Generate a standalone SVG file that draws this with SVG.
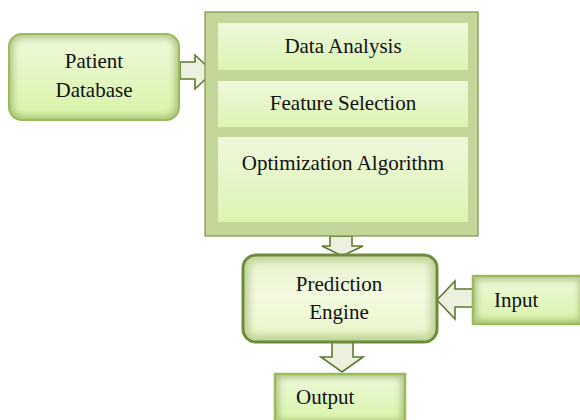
<svg xmlns="http://www.w3.org/2000/svg" width="580" height="420" viewBox="0 0 580 420">
<defs>
  <linearGradient id="gNode" x1="0" y1="0" x2="0" y2="1">
    <stop offset="0" stop-color="#eef9da"/>
    <stop offset="1" stop-color="#d7f3a8"/>
  </linearGradient>
  <linearGradient id="gInner" x1="0" y1="0" x2="0" y2="1">
    <stop offset="0" stop-color="#eef8dc"/>
    <stop offset="1" stop-color="#dcf4b2"/>
  </linearGradient>
  <linearGradient id="gPred" x1="0" y1="0" x2="0" y2="1">
    <stop offset="0" stop-color="#e8f3cf"/>
    <stop offset="0.5" stop-color="#f3fadf"/>
    <stop offset="1" stop-color="#e6f5c4"/>
  </linearGradient>
  <filter id="soft" x="-10%" y="-10%" width="120%" height="120%">
    <feGaussianBlur stdDeviation="3"/>
  </filter>
  <clipPath id="cPat"><rect x="9" y="34" width="170" height="86" rx="13"/></clipPath>
  <clipPath id="cPred"><rect x="243" y="255" width="194" height="87" rx="13"/></clipPath>
  <clipPath id="cIn"><rect x="473" y="276" width="110" height="48"/></clipPath>
  <clipPath id="cOut"><rect x="275" y="374" width="130" height="50"/></clipPath>
</defs>
<style>
  .t { font-family: "Liberation Serif", "Times New Roman", serif; font-size: 21px; fill: #111; }
  .arrow { fill: #ebf1de; stroke: #5f7a30; stroke-width: 1.6; stroke-linejoin: miter; }
  .shade { fill: none; stroke: #7f9a4a; stroke-width: 8; opacity: 0.55; }
</style>

<g id="connectors">
  <path class="arrow" d="M180,62 H195 V55 L213,72 L195,89 V79 H180 Z"/>
  <path class="arrow" d="M330,236 H352 V246 H363 L342,256 L322,246 H330 Z"/>
  <path class="arrow" d="M473,289 H455 V281 L437,300 L455,319 V307 H473 Z"/>
  <path class="arrow" d="M332,342 H353 V357 H363 L342,372 L321,357 H332 Z"/>
</g>

<g id="patient-database">
  <rect x="9" y="34" width="170" height="86" rx="13" fill="url(#gNode)"/>
  <g clip-path="url(#cPat)"><rect x="9" y="34" width="170" height="86" rx="13" class="shade" filter="url(#soft)"/></g>
  <rect x="9" y="34" width="170" height="86" rx="13" fill="none" stroke="#9bbb59" stroke-width="2"/>
  <text class="t" x="94" y="68" text-anchor="middle">Patient</text>
  <text class="t" x="94" y="97" text-anchor="middle">Database</text>
</g>

<g id="processing">
  <rect x="205" y="12" width="273" height="224" fill="#c4d79b" stroke="#7a9444" stroke-width="1.2"/>
  <g id="data-analysis">
    <rect x="218" y="23" width="250" height="47" fill="url(#gInner)"/>
    <text class="t" x="343" y="53" text-anchor="middle">Data Analysis</text>
  </g>
  <g id="feature-selection">
    <rect x="218" y="81" width="250" height="46" fill="url(#gInner)"/>
    <text class="t" x="343" y="110" text-anchor="middle">Feature Selection</text>
  </g>
  <g id="optimization-algorithm">
    <rect x="218" y="137" width="250" height="85" fill="url(#gInner)"/>
    <text class="t" x="343" y="170" text-anchor="middle">Optimization Algorithm</text>
  </g>
</g>

<g id="prediction-engine">
  <rect x="243" y="255" width="194" height="87" rx="13" fill="url(#gPred)"/>
  <g clip-path="url(#cPred)"><rect x="243" y="255" width="194" height="87" rx="13" fill="none" stroke="#a9c07a" stroke-width="14" opacity="0.6" filter="url(#soft)"/></g>
  <rect x="243" y="255" width="194" height="87" rx="13" fill="none" stroke="#6e8b3d" stroke-width="3"/>
  <text class="t" x="339" y="291" text-anchor="middle">Prediction</text>
  <text class="t" x="339" y="319" text-anchor="middle">Engine</text>
</g>

<g id="input">
  <rect x="473" y="276" width="110" height="48" fill="url(#gNode)"/>
  <g clip-path="url(#cIn)"><rect x="473" y="276" width="110" height="48" class="shade" filter="url(#soft)"/></g>
  <rect x="473" y="276" width="110" height="48" fill="none" stroke="#9bbb59" stroke-width="2.5"/>
  <text class="t" x="494" y="307">Input</text>
</g>

<g id="output">
  <rect x="275" y="374" width="130" height="50" fill="url(#gNode)"/>
  <g clip-path="url(#cOut)"><rect x="275" y="374" width="130" height="50" class="shade" filter="url(#soft)"/></g>
  <rect x="275" y="374" width="130" height="50" fill="none" stroke="#9bbb59" stroke-width="2.5"/>
  <text class="t" x="296" y="404">Output</text>
</g>
</svg>
